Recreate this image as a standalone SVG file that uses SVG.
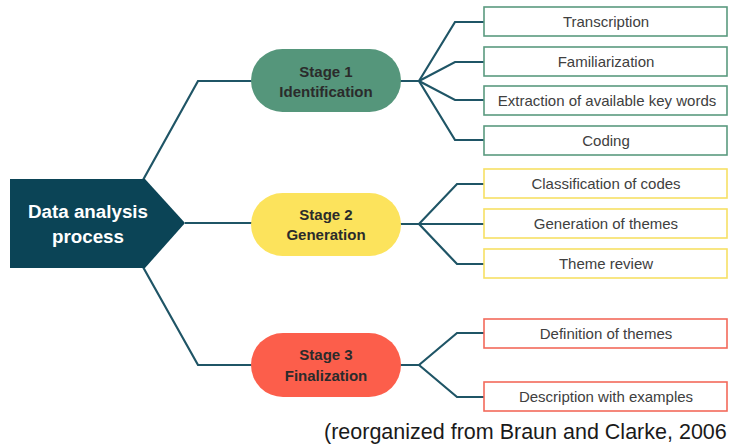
<svg xmlns="http://www.w3.org/2000/svg" width="729" height="446" viewBox="0 0 729 446">
  <style>
    .wire { fill: none; stroke: #1F5566; stroke-width: 2.2; stroke-linejoin: miter; }
    .stage-label { font-family: "Liberation Sans", Arial, sans-serif; font-size: 15px; font-weight: bold; fill: #2B2B2B; text-anchor: middle; }
    .item { fill: #FFFFFF; stroke-width: 1.6; }
    .item-label { font-family: "Liberation Sans", Arial, sans-serif; font-size: 15px; fill: #404040; text-anchor: middle; }
    .s1 { stroke: #5A9A7F; }
    .s2 { stroke: #F7E064; }
    .s3 { stroke: #F36A5B; }
  </style>

  <rect width="729" height="446" fill="#FFFFFF"/>

  <!-- connectors -->
  <g id="connectors">
    <!-- root to stages -->
    <polyline class="wire" points="143,180 198,81 252,81"/>
    <polyline class="wire" points="185,223 252,223"/>
    <polyline class="wire" points="143,267 198,365 252,365"/>
    <!-- stage 1 fan -->
    <polyline class="wire" points="400,81 419,81 455,22 485,22"/>
    <polyline class="wire" points="419,81 455,62 485,62"/>
    <polyline class="wire" points="419,81 455,100 485,100"/>
    <polyline class="wire" points="419,81 455,140 485,140"/>
    <!-- stage 2 fan -->
    <polyline class="wire" points="400,224 419,224 457,184 485,184"/>
    <polyline class="wire" points="419,224 485,224"/>
    <polyline class="wire" points="419,224 457,264 485,264"/>
    <!-- stage 3 fan -->
    <polyline class="wire" points="400,365 419,365 457,333 485,333"/>
    <polyline class="wire" points="419,365 457,397 485,397"/>
  </g>

  <!-- root node -->
  <g id="root">
    <polygon points="10,179 145,179 185,223 145,268 10,268" fill="#0B4456"/>
    <text x="88" y="218" font-family="'Liberation Sans', Arial, sans-serif" font-size="18.8" font-weight="bold" fill="#FFFFFF" text-anchor="middle">Data analysis</text>
    <text x="88" y="243" font-family="'Liberation Sans', Arial, sans-serif" font-size="18.8" font-weight="bold" fill="#FFFFFF" text-anchor="middle">process</text>
  </g>

  <!-- stage nodes -->
  <g id="stage1">
    <rect x="251" y="49" width="150" height="63" rx="31.5" fill="#55967B"/>
    <text class="stage-label" x="326" y="77">Stage 1</text>
    <text class="stage-label" x="326" y="97">Identification</text>
  </g>
  <g id="stage2">
    <rect x="251" y="193" width="150" height="63" rx="31.5" fill="#FCE35C"/>
    <text class="stage-label" x="326" y="220">Stage 2</text>
    <text class="stage-label" x="326" y="240">Generation</text>
  </g>
  <g id="stage3">
    <rect x="251" y="333" width="150" height="64" rx="32" fill="#FC5E4B"/>
    <text class="stage-label" x="326" y="360">Stage 3</text>
    <text class="stage-label" x="326" y="381">Finalization</text>
  </g>

  <!-- stage 1 items -->
  <g id="transcription">
    <rect class="item s1" x="484" y="7" width="243" height="29"/>
    <text class="item-label" x="606" y="27">Transcription</text>
  </g>
  <g id="familiarization">
    <rect class="item s1" x="484" y="47" width="243" height="29"/>
    <text class="item-label" x="606" y="67">Familiarization</text>
  </g>
  <g id="extraction">
    <rect class="item s1" x="484" y="86" width="243" height="29"/>
    <text class="item-label" x="607" y="106">Extraction of available key words</text>
  </g>
  <g id="coding">
    <rect class="item s1" x="484" y="126" width="243" height="29"/>
    <text class="item-label" x="606" y="146">Coding</text>
  </g>

  <!-- stage 2 items -->
  <g id="classification">
    <rect class="item s2" x="484" y="169" width="243" height="29"/>
    <text class="item-label" x="606" y="189">Classification of codes</text>
  </g>
  <g id="generation">
    <rect class="item s2" x="484" y="209" width="243" height="29"/>
    <text class="item-label" x="606" y="229">Generation of themes</text>
  </g>
  <g id="review">
    <rect class="item s2" x="484" y="249" width="243" height="29"/>
    <text class="item-label" x="606" y="269">Theme review</text>
  </g>

  <!-- stage 3 items -->
  <g id="definition">
    <rect class="item s3" x="484" y="319" width="243" height="29"/>
    <text class="item-label" x="606" y="339">Definition of themes</text>
  </g>
  <g id="description">
    <rect class="item s3" x="484" y="382" width="243" height="29"/>
    <text class="item-label" x="606" y="402">Description with examples</text>
  </g>

  <!-- source note -->
  <text x="324" y="439" font-family="'Liberation Sans', Arial, sans-serif" font-size="21.5" fill="#1A1A1A">(reorganized from Braun and Clarke, 2006</text>
</svg>
